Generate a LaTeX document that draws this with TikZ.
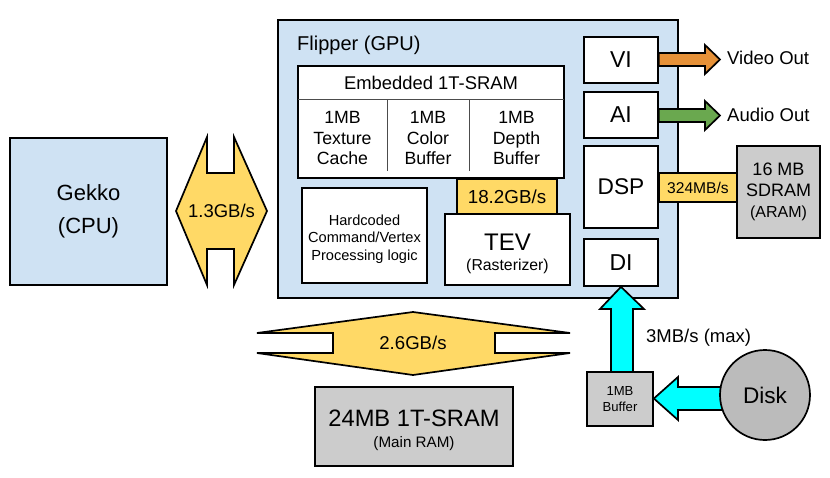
\documentclass[tikz,border=0pt]{standalone}
\usepackage{fontspec}
\setmainfont{Liberation Sans}
\definecolor{cpublue}{HTML}{CFE2F3}
\definecolor{busyel}{HTML}{FFD966}
\definecolor{memgray}{HTML}{CCCCCC}
\definecolor{diskgray}{HTML}{BBBBBB}
\definecolor{vidorange}{HTML}{E69138}
\definecolor{audgreen}{HTML}{6AA84F}
\definecolor{diskcyan}{HTML}{00FFFF}
\newcommand{\fsz}[2]{\fontsize{#1}{#2}\selectfont}
\tikzset{
  blk/.style={draw=black, line width=1.7pt, inner sep=0pt, align=center},
  bluebox/.style={blk, fill=cpublue},
  whitebox/.style={blk, fill=white},
  graybox/.style={blk, fill=memgray},
  yelbox/.style={blk, fill=busyel},
  blockarrow/.style={draw=black, line width=1.7pt, line join=miter},
  txt/.style={inner sep=0pt, align=center},
  thinline/.style={draw=black!70, line width=0.8pt}
}
\begin{document}
\begin{tikzpicture}[x=1pt,y=-1pt]
\useasboundingbox (0,0) rectangle (830,477);

% CPU
\node[bluebox, minimum width=157pt, minimum height=147pt, font=\fsz{22}{33}] (gekko) at (88.5,211.5)
  {Gekko\\(CPU)};

% 1.3GB/s double arrow
\draw[blockarrow, fill=busyel] (176,211) -- (207,137) -- (207,173) -- (234,173) -- (234,137)
  -- (267,211) -- (234,285) -- (234,249) -- (207,249) -- (207,285) -- cycle;
\node[txt, font=\fsz{18.5}{22}] (bw13) at (221.5,211) {1.3GB/s};

% Flipper
\node[bluebox, minimum width=400pt, minimum height=278pt] (flipper) at (478,159) {};
\node[txt, anchor=west, font=\fsz{20}{24}] (fliplbl) at (297,45) {Flipper (GPU)};

% 18.2 GB/s
\node[yelbox, minimum width=100pt, minimum height=34pt, font=\fsz{18.8}{22}] (bw182) at (507,196.5) {18.2GB/s};

% Embedded SRAM
\node[whitebox, minimum width=266pt, minimum height=112pt] (esram) at (431,122) {};
\draw[thinline] (298,99) -- (564,99);
\draw[thinline] (387,99) -- (387,171);
\draw[thinline] (469,99) -- (469,171);
\node[txt, font=\fsz{18.4}{22}] (esramlbl) at (431,82.5) {Embedded 1T-SRAM};
\node[txt, font=\fsz{17.7}{20.5}] (texcache) at (342.5,138) {1MB\\Texture\\Cache};
\node[txt, font=\fsz{17.7}{20.5}] (colbuf) at (428,138) {1MB\\Color\\Buffer};
\node[txt, font=\fsz{17.7}{20.5}] (depbuf) at (516.5,138) {1MB\\Depth\\Buffer};

% Hardcoded logic
\node[whitebox, minimum width=125pt, minimum height=95pt] (hard) at (364.5,235.5) {};
\node[txt, font=\fsz{14.6}{17.5}] (hardlbl) at (364.5,239)
  {Hardcoded\\Command/Vertex\\Processing logic};

% TEV
\node[whitebox, minimum width=125pt, minimum height=71pt] (tev) at (507.5,249.5) {};
\node[txt, font=\fsz{24}{28}] (tevlbl) at (507.5,242) {TEV};
\node[txt, font=\fsz{15.8}{19}] (rastlbl) at (507.5,266) {(Rasterizer)};

% Right column
\node[whitebox, minimum width=74pt, minimum height=46pt, font=\fsz{23}{27}] (vi) at (621,60) {VI};
\node[whitebox, minimum width=74pt, minimum height=46pt, font=\fsz{23}{27}] (ai) at (621,115) {AI};
\node[whitebox, minimum width=74pt, minimum height=82pt, font=\fsz{22.7}{27}] (dsp) at (621,187) {DSP};
\node[whitebox, minimum width=74pt, minimum height=47pt, font=\fsz{23}{27}] (di) at (621,262.5) {DI};

% Video / Audio out arrows
\draw[blockarrow, fill=vidorange] (vi.east |- 0,53) -- (705,53) -- (705,45) -- (720,59.5)
  -- (705,74) -- (705,66) -- (vi.east |- 0,66) -- cycle;
\node[txt, anchor=west, font=\fsz{18.5}{22}] (vidout) at (727,58) {Video Out};
\draw[blockarrow, fill=audgreen] (ai.east |- 0,109) -- (705,109) -- (705,101) -- (720,115.5)
  -- (705,130) -- (705,122) -- (ai.east |- 0,122) -- cycle;
\node[txt, anchor=west, font=\fsz{18.5}{22}] (audout) at (727,115) {Audio Out};

% ARAM
\node[yelbox, minimum width=78pt, minimum height=29pt, font=\fsz{15.6}{19}] (bw324) at (698,187.5) {324MB/s};
\node[graybox, minimum width=83pt, minimum height=92pt, font=\fsz{18}{21}] (aram) at (778.5,192)
  {16 MB\\SDRAM\\{\fsz{16}{20}(ARAM)}};

% 2.6GB/s double arrow
\draw[blockarrow, fill=busyel] (413,312) -- (570,333) -- (495,333) -- (495,353) -- (570,353)
  -- (413,375) -- (257,353) -- (333,353) -- (333,333) -- (257,333) -- cycle;
\node[txt, font=\fsz{18.6}{22}] (bw26) at (413,343) {2.6GB/s};

% Main RAM
\node[graybox, minimum width=198pt, minimum height=79pt] (mainram) at (414,426.5) {};
\node[txt, font=\fsz{23.7}{28}] (mainlbl) at (414,418) {24MB 1T-SRAM};
\node[txt, font=\fsz{15.2}{18}] (mainsub) at (414,444) {(Main RAM)};

% Buffer
\node[graybox, minimum width=66pt, minimum height=54pt, font=\fsz{13.1}{16}] (buffer) at (620,399)
  {1MB\\Buffer};

% Up arrow buffer -> DI
\draw[blockarrow, fill=diskcyan] (611,372) -- (611,309) -- (600,309) -- (di.south)
  -- (644,309) -- (633,309) -- (633,372) -- cycle;
\node[txt, anchor=west, font=\fsz{18.5}{22}] (bw3) at (646,338) {3MB/s (max)};

% Disk arrow
\draw[blockarrow, fill=diskcyan] (725,387) -- (678,387) -- (678,377) -- (buffer.east |- 0,398.5)
  -- (678,420) -- (678,410) -- (725,410);
\node[draw=black, line width=1.7pt, fill=diskgray, circle, minimum size=90pt, inner sep=0pt, font=\fsz{22.6}{27}] (disk) at (765,395)
  {Disk};
\end{tikzpicture}
\end{document}
